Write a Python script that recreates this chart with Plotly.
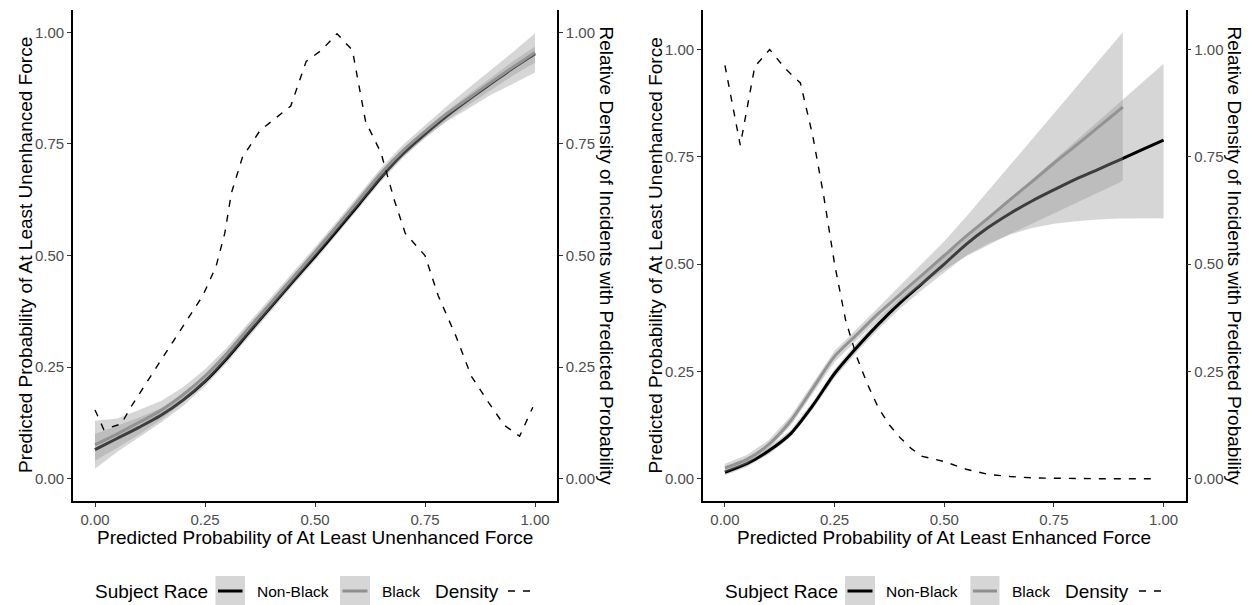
import plotly.graph_objects as go

W, H = 1253, 605

# ---------------- data: left panel (Unenhanced force) ----------------
x_left = [0, .05, .1, .15, .2, .25, .3, .35, .4, .45, .5, .55, .6, .65, .7, .75, .8, .85, .9, .95, 1.0]
nonblack_left = [.065, .09, .115, .142, .176, .218, .27, .328, .385, .442, .498, .556, .615, .675, .728, .772, .813, .85, .885, .92, .952]
nonblack_left_lo = [.022, .06, .093, .126, .163, .207, .26, .319, .376, .433, .489, .547, .606, .666, .719, .763, .803, .838, .871, .903, .932]
nonblack_left_hi = [.10, .118, .137, .158, .189, .229, .28, .337, .394, .451, .507, .565, .624, .684, .737, .781, .823, .862, .898, .935, .968]
black_left = [.076, .1, .126, .153, .188, .23, .281, .338, .394, .451, .508, .566, .625, .684, .735, .778, .818, .853, .888, .922, .955]
black_left_lo = [.04, .069, .099, .132, .171, .215, .268, .326, .382, .44, .497, .555, .613, .672, .722, .764, .801, .83, .86, .885, .91]
black_left_hi = [.13, .135, .154, .174, .205, .245, .294, .35, .406, .462, .519, .577, .637, .696, .748, .792, .835, .876, .915, .956, .998]

dens_x_left = [0.0, 0.02, 0.06, 0.08, 0.13, 0.17, 0.21, 0.245, 0.275, 0.295, 0.31, 0.335, 0.375, 0.41, 0.445,
               0.48, 0.515, 0.55, 0.585, 0.615, 0.65, 0.68, 0.705, 0.75, 0.78, 0.82, 0.855, 0.895, 0.93, 0.965, 0.995]
dens_y_left = [0.154, 0.11, 0.123, 0.158, 0.235, 0.295, 0.355, 0.41, 0.475, 0.55, 0.64, 0.72, 0.78, 0.807, 0.835,
               0.935, 0.96, 0.997, 0.96, 0.80, 0.73, 0.625, 0.55, 0.50, 0.41, 0.32, 0.23, 0.17, 0.12, 0.095, 0.16]

# ---------------- data: right panel (Enhanced force) ----------------
x_right_nb = [0, .05, .1, .15, .2, .25, .3, .35, .4, .45, .5, .55, .6, .65, .7, .75, .8, .85, .9, .95, 1.0]
nonblack_right = [.015, .035, .065, .105, .17, .245, .305, .36, .41, .455, .5, .546, .585, .618, .647, .673, .698, .72, .743, .766, .789]
nonblack_right_lo = [.008, .027, .057, .097, .161, .235, .294, .348, .397, .44, .481, .52, .548, .569, .584, .594, .6, .604, .606, .607, .607]
nonblack_right_hi = [.022, .043, .073, .113, .179, .255, .316, .372, .423, .47, .517, .56, .607, .652, .697, .742, .787, .832, .877, .922, .967]

x_right_b = [0, .05, .1, .15, .2, .25, .3, .35, .4, .45, .5, .55, .6, .65, .7, .75, .8, .85, .9, .907]
black_right = [.025, .045, .08, .135, .21, .285, .335, .385, .43, .475, .52, .565, .607, .65, .692, .735, .776, .818, .86, .866]
black_right_lo = [.015, .035, .07, .124, .198, .272, .322, .371, .413, .452, .487, .518, .544, .57, .594, .618, .642, .666, .69, .696]
black_right_hi = [.035, .055, .09, .146, .222, .298, .348, .399, .45, .50, .553, .61, .67, .73, .79, .85, .91, .97, 1.03, 1.04]

dens_x_right = [0.0, 0.035, 0.068, 0.102, 0.138, 0.172, 0.2, 0.225, 0.25, 0.275, 0.3, 0.325, 0.35, 0.375, 0.4,
                0.425, 0.45, 0.5, 0.55, 0.6, 0.65, 0.7, 0.75, 0.8, 0.85, 0.9, 0.95, 0.985]
dens_y_right = [0.963, 0.777, 0.96, 1.0, 0.955, 0.922, 0.80, 0.66, 0.50, 0.37, 0.285, 0.22, 0.165, 0.125, 0.095,
                0.07, 0.052, 0.040, 0.022, 0.01, 0.005, 0.002, 0.001, 0, 0, 0, 0, 0]

tick_vals = [0, 0.25, 0.5, 0.75, 1.0]
tick_text = ["0.00", "0.25", "0.50", "0.75", "1.00"]

x_title_left = "Predicted Probability of At Least Unenhanced Force"
x_title_right = "Predicted Probability of At Least Enhanced Force"
y_title = "Predicted Probability of At Least Unenhanced Force"
y2_title = "Relative Density of Incidents with Predicted Probability"
legend_title = "Subject Race"
race_labels = ["Non-Black", "Black"]
density_label = "Density"

# ---------------- style ----------------
FONT = "Liberation Sans, Arial, sans-serif"
RIBBON = "rgba(153,153,153,0.4)"
KEYBG = "#d6d6d6"
C_NB = "#000000"
C_B = "#8f8f8f"
LW = 3
DASH = "7px,8px"

fig = go.Figure()


def ribbon(xs, lo, hi, xa, ya):
    fig.add_trace(go.Scatter(x=list(xs) + list(xs)[::-1], y=list(hi) + list(lo)[::-1],
                             fill="toself", fillcolor=RIBBON, line=dict(width=0),
                             mode="lines", hoverinfo="skip", showlegend=False,
                             xaxis=xa, yaxis=ya))


def line(xs, ys, color, xa, ya, name):
    fig.add_trace(go.Scatter(x=xs, y=ys, mode="lines", name=name,
                             line=dict(color=color, width=LW, shape="spline", smoothing=0.8),
                             showlegend=False, xaxis=xa, yaxis=ya))


def density(xs, ys, xa, ya):
    fig.add_trace(go.Scatter(x=xs, y=ys, mode="lines", name=density_label,
                             line=dict(color="black", width=1.4, dash=DASH),
                             showlegend=False, xaxis=xa, yaxis=ya))


# left panel
ribbon(x_left, nonblack_left_lo, nonblack_left_hi, "x", "y")
line(x_left, nonblack_left, C_NB, "x", "y", race_labels[0])
line(x_left, black_left, C_B, "x", "y", race_labels[1])
ribbon(x_left, black_left_lo, black_left_hi, "x", "y")
density(dens_x_left, dens_y_left, "x", "y2")

# right panel
ribbon(x_right_nb, nonblack_right_lo, nonblack_right_hi, "x2", "y3")
line(x_right_nb, nonblack_right, C_NB, "x2", "y3", race_labels[0])
line(x_right_b, black_right, C_B, "x2", "y3", race_labels[1])
ribbon(x_right_b, black_right_lo, black_right_hi, "x2", "y3")
density(dens_x_right, dens_y_right, "x2", "y4")

ydom = [(H - 501) / H, (H - 10) / H]
xdomL = [73 / W, 557 / W]
xdomR = [703 / W, 1185.5 / W]

axis_common = dict(showgrid=False, zeroline=False, showline=True, linecolor="black", linewidth=1.6,
                   ticks="outside", ticklen=4, tickwidth=1.1, tickcolor="#333333",
                   tickvals=tick_vals, ticktext=tick_text,
                   tickfont=dict(family=FONT, size=15, color="#4d4d4d"))

rangeL = [-0.05, 1.05]
rangeR = [-0.052, 1.092]

fig.update_layout(
    width=W, height=H,
    margin=dict(l=0, r=0, t=0, b=0),
    paper_bgcolor="white", plot_bgcolor="white",
    showlegend=False,
    font=dict(family=FONT),
    xaxis=dict(domain=xdomL, range=[-0.05, 1.05], anchor="y", **axis_common),
    yaxis=dict(domain=ydom, range=rangeL, anchor="x", **axis_common),
    yaxis2=dict(range=rangeL, overlaying="y", side="right", anchor="x", **axis_common),
    xaxis2=dict(domain=xdomR, range=[-0.05, 1.05], anchor="y3", **axis_common),
    yaxis3=dict(domain=ydom, range=rangeR, anchor="x2", **axis_common),
    yaxis4=dict(range=rangeR, overlaying="y3", side="right", anchor="x2", **axis_common),
)


def px(x):
    return x / W


def py(y):
    return (H - y) / H


ann = []


def text(t, x, y, size, angle=0, xanchor="center", color="black"):
    ann.append(dict(text=t, x=px(x), y=py(y), xref="paper", yref="paper", showarrow=False,
                    textangle=angle, xanchor=xanchor, yanchor="middle",
                    font=dict(family=FONT, size=size, color=color)))


# axis titles
text(y_title, 25.5, 255.5, 19, angle=-90)
text(y2_title, 606, 255.5, 19, angle=90)
text(x_title_left, 315, 537.5, 19)
text(y_title, 655, 255.5, 19, angle=-90)
text(y2_title, 1234, 255.5, 19, angle=90)
text(x_title_right, 944, 537.5, 19)

shapes = []
LEG_Y = 591


def legend(x_title, key1, lab1, key2, lab2, x_dens, dash_x):
    text(legend_title, x_title, LEG_Y, 19, xanchor="left")
    for (k0, k1), col in ((key1, C_NB), (key2, C_B)):
        shapes.append(dict(type="rect", xref="paper", yref="paper", x0=px(k0), x1=px(k1),
                           y0=py(605.5), y1=py(576), fillcolor=KEYBG, line=dict(width=0), layer="below"))
        shapes.append(dict(type="line", xref="paper", yref="paper", x0=px(k0 + 2.5), x1=px(k1 - 2.5),
                           y0=py(LEG_Y), y1=py(LEG_Y), line=dict(color=col, width=LW)))
    text(race_labels[0], lab1, LEG_Y, 15.5, xanchor="left")
    text(race_labels[1], lab2, LEG_Y, 15.5, xanchor="left")
    text(density_label, x_dens, LEG_Y, 19, xanchor="left")
    shapes.append(dict(type="line", xref="paper", yref="paper", x0=px(dash_x[0]), x1=px(dash_x[1]),
                       y0=py(LEG_Y), y1=py(LEG_Y), line=dict(color="black", width=1.4, dash=DASH)))


legend(93, (215.5, 245), 255, (340, 370), 380, 432.7, (508, 531))
legend(723, (845, 875), 884.4, (970.4, 999.5), 1009.6, 1063, (1139, 1162))

fig.update_layout(annotations=ann, shapes=shapes)

fig.write_html("out.html")
